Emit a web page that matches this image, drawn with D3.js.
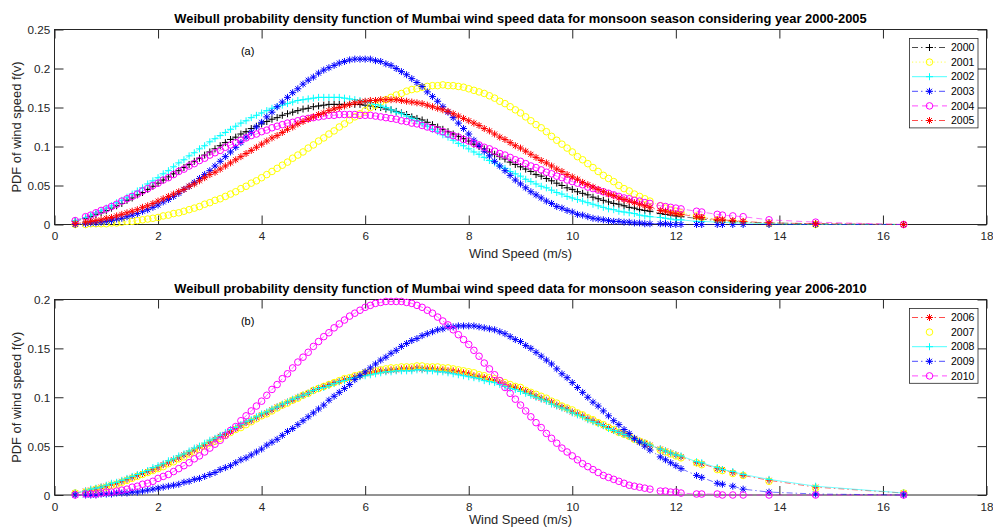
<!DOCTYPE html>
<html>
<head>
<meta charset="utf-8">
<script src="https://cdn.jsdelivr.net/npm/d3@7"></script>
<style>
  body { margin: 0; background: #fff; }
  svg { display: block; }
  text { font-family: "Liberation Sans", Arial, Helvetica, sans-serif; fill: #262626; }
  .tick text { font-size: 11.7px; }
  .title { font-size: 12.9px; font-weight: bold; fill: #000; }
  .label { font-size: 12.9px; }
  .legend text { font-size: 10.5px; fill: #000; }
  .tag { font-size: 11px; fill: #000; }
</style>
</head>
<body>
<div id="chart"></div>
<script>
// wind speed samples (m/s), shared by every year
const windSpeed = [0.4,0.6,0.7,0.8,0.9,1.0,1.1,1.2,1.3,1.4,
  1.5,1.6,1.7,1.8,1.9,2.0,2.1,2.2,2.3,2.4,
  2.5,2.6,2.7,2.8,2.9,3.0,3.1,3.2,3.3,3.4,
  3.5,3.6,3.7,3.8,3.9,4.0,4.1,4.2,4.3,4.4,
  4.5,4.6,4.7,4.8,4.9,5.0,5.1,5.2,5.3,5.4,
  5.5,5.6,5.7,5.8,5.9,6.0,6.1,6.2,6.3,6.4,
  6.5,6.6,6.7,6.8,6.9,7.0,7.1,7.2,7.3,7.4,
  7.5,7.6,7.7,7.8,7.9,8.0,8.1,8.2,8.3,8.4,
  8.5,8.6,8.7,8.8,8.9,9.0,9.1,9.2,9.3,9.4,
  9.5,9.6,9.7,9.8,9.9,10.0,10.1,10.2,10.3,10.4,
  10.5,10.6,10.7,10.8,10.9,11.0,11.1,11.2,11.3,11.4,
  11.5,
  11.7,11.8,11.9,12.0,12.1,12.4,12.5,12.8,12.9,13.1,13.3,13.8,14.7,16.4];

const yearsA = ["2000", "2001", "2002", "2003", "2004", "2005"];
const yearsB = ["2006", "2007", "2008", "2009", "2010"];

const pdf2000 = [0.004,0.008,0.010,0.013,0.015,0.018,0.021,0.024,0.027,0.031,
  0.034,0.038,0.041,0.045,0.049,0.053,0.057,0.061,0.065,0.069,
  0.073,0.077,0.081,0.085,0.089,0.093,0.097,0.101,0.105,0.109,
  0.112,0.116,0.119,0.123,0.126,0.129,0.132,0.135,0.137,0.140,
  0.142,0.144,0.146,0.148,0.149,0.151,0.152,0.153,0.154,0.154,
  0.154,0.154,0.154,0.154,0.154,0.153,0.152,0.151,0.150,0.148,
  0.147,0.145,0.143,0.141,0.138,0.136,0.134,0.131,0.128,0.125,
  0.122,0.119,0.116,0.113,0.110,0.107,0.103,0.100,0.097,0.093,
  0.090,0.087,0.084,0.080,0.077,0.074,0.071,0.068,0.064,0.062,
  0.059,0.056,0.053,0.050,0.047,0.045,0.042,0.040,0.038,0.035,
  0.033,0.031,0.029,0.027,0.026,0.024,0.022,0.021,0.019,0.018,
  0.017,
  0.014,0.013,0.012,0.011,0.010,0.008,0.007,0.005,0.005,0.004,0.003,0.002,0.001,0.000];

const pdf2001 = [0.000,0.000,0.001,0.001,0.001,0.001,0.002,0.002,0.003,0.004,
  0.004,0.005,0.006,0.007,0.008,0.009,0.011,0.012,0.014,0.015,
  0.017,0.019,0.021,0.023,0.026,0.028,0.031,0.033,0.036,0.039,
  0.042,0.046,0.049,0.053,0.056,0.060,0.064,0.068,0.072,0.076,
  0.080,0.085,0.089,0.093,0.098,0.102,0.107,0.111,0.116,0.120,
  0.125,0.129,0.134,0.138,0.142,0.146,0.150,0.153,0.157,0.160,
  0.163,0.166,0.168,0.171,0.173,0.174,0.176,0.177,0.178,0.178,
  0.179,0.178,0.178,0.177,0.176,0.174,0.172,0.170,0.168,0.165,
  0.162,0.158,0.155,0.151,0.147,0.143,0.138,0.133,0.128,0.124,
  0.119,0.113,0.108,0.103,0.098,0.093,0.087,0.083,0.078,0.073,
  0.068,0.063,0.059,0.055,0.050,0.046,0.043,0.039,0.036,0.033,
  0.030,
  0.024,0.021,0.019,0.017,0.015,0.011,0.009,0.006,0.005,0.004,0.003,0.001,0.000,0.000];

const pdf2002 = [0.005,0.009,0.012,0.015,0.018,0.021,0.024,0.028,0.031,0.035,
  0.039,0.043,0.047,0.052,0.056,0.060,0.065,0.069,0.074,0.079,
  0.083,0.088,0.092,0.097,0.101,0.106,0.110,0.114,0.118,0.122,
  0.126,0.130,0.133,0.137,0.140,0.143,0.146,0.149,0.151,0.153,
  0.155,0.157,0.159,0.160,0.161,0.162,0.163,0.163,0.163,0.163,
  0.163,0.162,0.161,0.160,0.159,0.157,0.156,0.154,0.152,0.150,
  0.147,0.144,0.142,0.139,0.136,0.133,0.129,0.126,0.122,0.119,
  0.115,0.112,0.108,0.104,0.101,0.097,0.093,0.090,0.086,0.082,
  0.079,0.075,0.072,0.068,0.065,0.062,0.058,0.055,0.052,0.049,
  0.047,0.044,0.041,0.039,0.036,0.034,0.032,0.030,0.028,0.026,
  0.024,0.022,0.020,0.019,0.017,0.016,0.015,0.014,0.012,0.011,
  0.010,
  0.009,0.008,0.007,0.006,0.006,0.004,0.004,0.003,0.003,0.002,0.002,0.001,0.000,0.000];

const pdf2003 = [0.000,0.001,0.002,0.002,0.003,0.004,0.005,0.007,0.008,0.010,
  0.012,0.014,0.017,0.019,0.022,0.025,0.029,0.032,0.036,0.040,
  0.045,0.049,0.054,0.059,0.064,0.069,0.075,0.081,0.087,0.093,
  0.099,0.105,0.112,0.118,0.125,0.131,0.138,0.144,0.151,0.157,
  0.163,0.169,0.174,0.180,0.185,0.189,0.194,0.198,0.201,0.204,
  0.207,0.209,0.211,0.212,0.212,0.212,0.212,0.210,0.209,0.206,
  0.204,0.200,0.196,0.192,0.187,0.182,0.177,0.170,0.164,0.158,
  0.151,0.144,0.137,0.130,0.123,0.116,0.108,0.101,0.094,0.088,
  0.081,0.075,0.069,0.063,0.057,0.052,0.047,0.042,0.038,0.034,
  0.030,0.027,0.023,0.021,0.018,0.016,0.013,0.012,0.010,0.008,
  0.007,0.006,0.005,0.004,0.004,0.003,0.003,0.002,0.002,0.001,
  0.001,
  0.001,0.001,0.000,0.000,0.000,0.000,0.000,0.000,0.000,0.000,0.000,0.000,0.000,0.000];

const pdf2004 = [0.005,0.010,0.012,0.015,0.018,0.020,0.023,0.026,0.030,0.033,
  0.036,0.039,0.043,0.046,0.050,0.053,0.057,0.060,0.064,0.068,
  0.071,0.075,0.078,0.082,0.085,0.089,0.092,0.095,0.099,0.102,
  0.105,0.108,0.111,0.114,0.116,0.119,0.121,0.124,0.126,0.128,
  0.130,0.131,0.133,0.135,0.136,0.137,0.138,0.139,0.140,0.140,
  0.141,0.141,0.141,0.141,0.140,0.140,0.140,0.139,0.138,0.137,
  0.136,0.135,0.133,0.132,0.130,0.129,0.127,0.125,0.123,0.121,
  0.119,0.116,0.114,0.112,0.109,0.107,0.104,0.102,0.099,0.097,
  0.094,0.091,0.089,0.086,0.083,0.081,0.078,0.075,0.073,0.070,
  0.067,0.065,0.062,0.060,0.057,0.055,0.053,0.051,0.048,0.046,
  0.044,0.042,0.040,0.038,0.036,0.034,0.033,0.031,0.030,0.028,
  0.027,
  0.024,0.023,0.022,0.021,0.020,0.017,0.016,0.013,0.012,0.011,0.010,0.006,0.003,0.000];

const pdf2005 = [0.001,0.003,0.004,0.005,0.006,0.008,0.009,0.011,0.013,0.015,
  0.017,0.019,0.022,0.024,0.027,0.030,0.033,0.036,0.039,0.042,
  0.045,0.049,0.052,0.056,0.060,0.064,0.067,0.071,0.075,0.079,
  0.083,0.087,0.091,0.095,0.099,0.103,0.107,0.111,0.114,0.118,
  0.122,0.125,0.129,0.132,0.135,0.138,0.141,0.143,0.146,0.148,
  0.150,0.152,0.154,0.156,0.157,0.158,0.159,0.159,0.160,0.160,
  0.160,0.160,0.159,0.158,0.157,0.156,0.155,0.153,0.151,0.149,
  0.147,0.145,0.142,0.139,0.136,0.133,0.130,0.127,0.123,0.120,
  0.116,0.112,0.109,0.105,0.101,0.098,0.094,0.090,0.086,0.082,
  0.079,0.075,0.071,0.068,0.064,0.061,0.058,0.054,0.051,0.048,
  0.045,0.042,0.039,0.037,0.034,0.032,0.030,0.028,0.026,0.024,
  0.022,
  0.018,0.017,0.015,0.014,0.013,0.010,0.009,0.006,0.006,0.005,0.004,0.002,0.001,0.000];

const pdf2006 = [0.002,0.004,0.005,0.006,0.008,0.009,0.011,0.012,0.014,0.016,
  0.018,0.020,0.022,0.024,0.026,0.028,0.031,0.033,0.036,0.038,
  0.041,0.043,0.046,0.049,0.051,0.054,0.057,0.060,0.062,0.065,
  0.068,0.071,0.074,0.076,0.079,0.082,0.084,0.087,0.090,0.092,
  0.095,0.097,0.100,0.102,0.104,0.107,0.109,0.111,0.113,0.115,
  0.116,0.118,0.119,0.121,0.122,0.124,0.125,0.126,0.127,0.127,
  0.128,0.128,0.129,0.129,0.129,0.130,0.129,0.129,0.129,0.128,
  0.128,0.127,0.127,0.126,0.125,0.124,0.122,0.121,0.120,0.118,
  0.117,0.115,0.113,0.111,0.110,0.108,0.106,0.104,0.101,0.099,
  0.097,0.095,0.092,0.090,0.088,0.085,0.083,0.081,0.078,0.076,
  0.074,0.071,0.069,0.066,0.064,0.062,0.060,0.057,0.055,0.053,
  0.051,
  0.047,0.045,0.043,0.041,0.039,0.033,0.032,0.027,0.026,0.023,0.020,0.015,0.008,0.002];

const pdf2007 = [0.002,0.003,0.004,0.006,0.007,0.008,0.010,0.011,0.013,0.015,
  0.017,0.019,0.021,0.023,0.025,0.027,0.029,0.032,0.034,0.037,
  0.039,0.042,0.044,0.047,0.050,0.053,0.055,0.058,0.061,0.064,
  0.067,0.069,0.072,0.075,0.078,0.081,0.083,0.086,0.089,0.092,
  0.094,0.097,0.099,0.102,0.104,0.107,0.109,0.111,0.113,0.115,
  0.117,0.119,0.120,0.122,0.123,0.125,0.126,0.127,0.128,0.129,
  0.130,0.130,0.131,0.131,0.131,0.132,0.132,0.131,0.131,0.131,
  0.130,0.130,0.129,0.128,0.127,0.126,0.125,0.123,0.122,0.120,
  0.119,0.117,0.115,0.113,0.111,0.110,0.107,0.105,0.103,0.101,
  0.099,0.096,0.094,0.091,0.089,0.087,0.084,0.082,0.079,0.077,
  0.074,0.072,0.069,0.067,0.064,0.062,0.060,0.057,0.055,0.053,
  0.050,
  0.046,0.044,0.042,0.040,0.038,0.033,0.031,0.026,0.025,0.022,0.020,0.014,0.007,0.002];

const pdf2008 = [0.002,0.004,0.006,0.007,0.008,0.010,0.012,0.013,0.015,0.017,
  0.019,0.021,0.023,0.025,0.028,0.030,0.032,0.035,0.037,0.040,
  0.042,0.045,0.048,0.050,0.053,0.056,0.058,0.061,0.064,0.067,
  0.069,0.072,0.075,0.077,0.080,0.083,0.085,0.088,0.090,0.093,
  0.095,0.098,0.100,0.102,0.104,0.107,0.109,0.110,0.112,0.114,
  0.116,0.117,0.119,0.120,0.121,0.122,0.123,0.124,0.125,0.126,
  0.126,0.127,0.127,0.127,0.127,0.128,0.128,0.127,0.127,0.126,
  0.126,0.125,0.124,0.123,0.122,0.121,0.120,0.119,0.117,0.116,
  0.115,0.113,0.111,0.109,0.108,0.106,0.104,0.102,0.100,0.098,
  0.096,0.093,0.091,0.089,0.087,0.084,0.082,0.080,0.077,0.075,
  0.073,0.071,0.068,0.066,0.064,0.062,0.060,0.057,0.055,0.053,
  0.051,
  0.047,0.045,0.043,0.041,0.040,0.034,0.033,0.028,0.026,0.024,0.021,0.016,0.009,0.002];

const pdf2009 = [0.000,0.000,0.000,0.000,0.001,0.001,0.001,0.002,0.002,0.002,
  0.003,0.003,0.004,0.005,0.006,0.007,0.008,0.009,0.010,0.011,
  0.013,0.014,0.016,0.017,0.019,0.021,0.023,0.026,0.028,0.030,
  0.033,0.036,0.038,0.041,0.044,0.047,0.051,0.054,0.057,0.061,
  0.065,0.068,0.072,0.076,0.080,0.084,0.088,0.092,0.097,0.101,
  0.105,0.109,0.113,0.118,0.122,0.126,0.130,0.134,0.138,0.141,
  0.145,0.148,0.152,0.155,0.158,0.160,0.163,0.165,0.167,0.169,
  0.170,0.172,0.172,0.173,0.173,0.173,0.173,0.172,0.171,0.170,
  0.169,0.167,0.165,0.162,0.159,0.157,0.153,0.150,0.146,0.142,
  0.138,0.134,0.129,0.124,0.120,0.115,0.110,0.105,0.100,0.095,
  0.091,0.086,0.081,0.076,0.072,0.067,0.063,0.058,0.054,0.050,
  0.046,
  0.039,0.036,0.033,0.030,0.027,0.020,0.018,0.012,0.011,0.009,0.006,0.003,0.001,0.000];

const pdf2010 = [0.000,0.001,0.001,0.001,0.002,0.003,0.003,0.004,0.005,0.006,
  0.008,0.009,0.011,0.012,0.014,0.017,0.019,0.021,0.024,0.027,
  0.030,0.033,0.037,0.040,0.044,0.048,0.052,0.056,0.061,0.066,
  0.070,0.076,0.081,0.086,0.091,0.096,0.102,0.108,0.113,0.119,
  0.124,0.130,0.136,0.141,0.146,0.152,0.157,0.162,0.166,0.171,
  0.175,0.179,0.183,0.186,0.189,0.192,0.194,0.196,0.197,0.198,
  0.198,0.198,0.198,0.197,0.196,0.194,0.192,0.189,0.186,0.182,
  0.178,0.174,0.169,0.164,0.159,0.154,0.148,0.142,0.135,0.129,
  0.123,0.117,0.110,0.104,0.098,0.092,0.086,0.080,0.074,0.069,
  0.063,0.058,0.053,0.048,0.044,0.040,0.036,0.032,0.029,0.026,
  0.023,0.020,0.018,0.016,0.014,0.012,0.010,0.009,0.008,0.007,
  0.006,
  0.004,0.004,0.003,0.003,0.002,0.001,0.001,0.001,0.000,0.000,0.000,0.000,0.000,0.000];

const xTicks = [0, 2, 4, 6, 8, 10, 12, 14, 16, 18];
const yTicksA = [0, 0.05, 0.1, 0.15, 0.2, 0.25];
const yTicksB = [0, 0.05, 0.1, 0.15, 0.2];
const titleA = "Weibull probability density function of Mumbai wind speed data for monsoon season considering year 2000-2005";
const titleB = "Weibull probability density function of Mumbai wind speed data for monsoon season considering year 2006-2010";

// MATLAB-ish line specs per year
const DASHDOT = "6,3,1.5,3";
const STYLE = {
  "2000": { color: "#000000", marker: "plus",   dash: DASHDOT },
  "2001": { color: "#ffff00", marker: "circle", dash: "1.2,2.4" },
  "2002": { color: "#00ffff", marker: "plus",   dash: null },
  "2003": { color: "#0000ff", marker: "star",   dash: DASHDOT },
  "2004": { color: "#ff00ff", marker: "circle", dash: "6,4" },
  "2005": { color: "#ff0000", marker: "star",   dash: DASHDOT },
  "2006": { color: "#ff0000", marker: "star",   dash: DASHDOT },
  "2007": { color: "#ffff00", marker: "circle", dash: "none" },
  "2008": { color: "#00ffff", marker: "plus",   dash: null },
  "2009": { color: "#0000ff", marker: "star",   dash: DASHDOT },
  "2010": { color: "#ff00ff", marker: "circle", dash: "6,4" }
};
const MARKERS = {
  plus: "M-3.5,0H3.5M0,-3.5V3.5",
  star: "M-3.5,0H3.5M0,-3.5V3.5M-2.5,-2.5L2.5,2.5M-2.5,2.5L2.5,-2.5",
  circle: "M3.3,0A3.3,3.3,0,1,1,-3.3,0A3.3,3.3,0,1,1,3.3,0Z"
};

const W = 993, H = 528;
const AX_LEFT = 54.5, AX_RIGHT = 986.5, TICK = 9;

const panels = [
  { years: yearsA, series: [pdf2000, pdf2001, pdf2002, pdf2003, pdf2004, pdf2005],
    yMax: 0.25, yTicks: yTicksA, title: titleA, tag: "(a)", tagY: 0.222, top: 29.5, bottom: 224.5 },
  { years: yearsB, series: [pdf2006, pdf2007, pdf2008, pdf2009, pdf2010],
    yMax: 0.2, yTicks: yTicksB, title: titleB, tag: "(b)", tagY: 0.178, top: 299.5, bottom: 495 }
];

panels.forEach(p => p.series.forEach((s, i) => {
  if (s.length !== windSpeed.length) throw new Error(p.years[i] + " has " + s.length + " values");
}));

const svg = d3.select("#chart").append("svg")
  .attr("width", W).attr("height", H)
  .attr("viewBox", `0 0 ${W} ${H}`);

const x = d3.scaleLinear().domain([0, 18]).range([AX_LEFT, AX_RIGHT]);

function drawPanel(p) {
  const g = svg.append("g");
  const y = d3.scaleLinear().domain([0, p.yMax]).range([p.bottom, p.top]);

  g.append("rect")
    .attr("x", AX_LEFT).attr("y", p.top)
    .attr("width", AX_RIGHT - AX_LEFT).attr("height", p.bottom - p.top)
    .attr("fill", "#fff").attr("stroke", "#262626").attr("stroke-width", 1);

  const fmt = d => String(+d.toFixed(2));

  g.append("g").attr("transform", `translate(0,${p.bottom})`)
    .call(d3.axisBottom(x).tickValues(xTicks).tickSizeInner(-TICK).tickSizeOuter(0).tickPadding(7.4).tickFormat(fmt))
    .call(a => a.select(".domain").remove());
  g.append("g").attr("transform", `translate(0,${p.top})`)
    .call(d3.axisTop(x).tickValues(xTicks).tickSizeInner(-TICK).tickSizeOuter(0).tickFormat(""))
    .call(a => a.select(".domain").remove());
  g.append("g").attr("transform", `translate(${AX_LEFT},0)`)
    .call(d3.axisLeft(y).tickValues(p.yTicks).tickSizeInner(-TICK).tickSizeOuter(0).tickPadding(4.3).tickFormat(fmt))
    .call(a => a.select(".domain").remove())
    .call(a => a.selectAll("text").attr("dy", "0.38em"));
  g.append("g").attr("transform", `translate(${AX_RIGHT},0)`)
    .call(d3.axisRight(y).tickValues(p.yTicks).tickSizeInner(-TICK).tickSizeOuter(0).tickFormat(""))
    .call(a => a.select(".domain").remove());
  g.selectAll(".tick line").attr("stroke", "#262626");
  g.selectAll(".tick text").attr("fill", "#262626");

  // curves: thin light line first, then markers on top
  p.series.forEach((vals, i) => {
    const st = STYLE[p.years[i]];
    const pts = windSpeed.map((v, j) => [v, vals[j]]);
    const sg = g.append("g");
    if (st.dash !== "none") {
      sg.append("path")
        .attr("d", d3.line().x(d => x(d[0])).y(d => y(d[1]))(pts))
        .attr("fill", "none")
        .attr("stroke", st.color)
        .attr("stroke-opacity", 0.55)
        .attr("stroke-width", 1)
        .attr("stroke-dasharray", st.dash);
    }
    sg.selectAll("path.mk").data(pts).join("path")
      .attr("class", "mk")
      .attr("transform", d => `translate(${x(d[0])},${y(d[1])})`)
      .attr("d", MARKERS[st.marker])
      .attr("fill", "none")
      .attr("stroke", st.color)
      .attr("stroke-width", 1);
  });

  g.append("text").attr("class", "tag")
    .attr("x", x(3.6)).attr("y", y(p.tagY)).attr("dy", "0.35em")
    .text(p.tag);

  const cx = (AX_LEFT + AX_RIGHT) / 2;
  g.append("text").attr("class", "title")
    .attr("x", cx).attr("y", p.top - 7).attr("text-anchor", "middle")
    .text(p.title);
  // the lower label sits right at the page edge; keep its descenders inside
  g.append("text").attr("class", "label")
    .attr("x", cx).attr("y", Math.min(p.bottom + 33, H - 4)).attr("text-anchor", "middle")
    .text("Wind Speed (m/s)");
  g.append("text").attr("class", "label")
    .attr("transform", `translate(21,${(p.top + p.bottom) / 2}) rotate(-90)`)
    .attr("text-anchor", "middle")
    .text("PDF of wind speed f(v)");

  // legend
  const rowH = 14.6;
  const lg = g.append("g").attr("class", "legend")
    .attr("transform", `translate(909.5,${p.top + 9})`);
  lg.append("rect")
    .attr("width", 68.5).attr("height", p.years.length * rowH + 1.8)
    .attr("fill", "#fff").attr("stroke", "#262626").attr("stroke-width", 0.8);
  p.years.forEach((yr, i) => {
    const st = STYLE[yr];
    const ry = 9 + i * rowH;
    if (st.dash !== "none") {
      lg.append("line")
        .attr("x1", 2.5).attr("x2", 37.5).attr("y1", ry).attr("y2", ry)
        .attr("stroke", st.color).attr("stroke-opacity", 0.7).attr("stroke-width", 1)
        .attr("stroke-dasharray", st.dash);
    }
    lg.append("path")
      .attr("transform", `translate(20,${ry})`)
      .attr("d", MARKERS[st.marker])
      .attr("fill", "none").attr("stroke", st.color).attr("stroke-width", 1);
    lg.append("text").attr("x", 41.5).attr("y", ry).attr("dy", "0.35em").text(yr);
  });
}

panels.forEach(drawPanel);
</script>
</body>
</html>
